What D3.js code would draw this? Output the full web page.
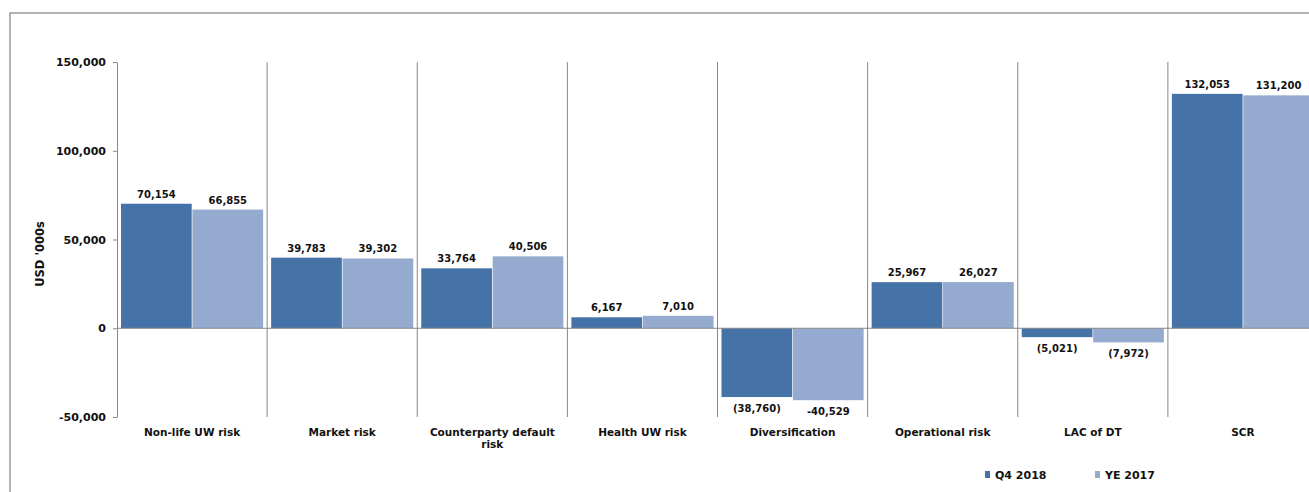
<!DOCTYPE html>
<html>
<head>
<meta charset="utf-8">
<script src="https://cdn.jsdelivr.net/npm/d3@7"></script>
<style>
  body { margin: 0; background: #fff; }
  text { font-family: "DejaVu Sans", Verdana, sans-serif; font-weight: bold; fill: #111; }
</style>
</head>
<body>
<script>
// chart data
var categories = ['Non-life UW risk', 'Market risk', 'Counterparty default risk', 'Health UW risk',
                  'Diversification', 'Operational risk', 'LAC of DT', 'SCR']
var seriesNames = ['Q4 2018', 'YE 2017']
var q4_2018 = [70154, 39783, 33764, 6167, -38760, 25967, -5021, 132053]
var ye_2017 = [66855, 39302, 40506, 7010, -40529, 26027, -7972, 131200]
// labels as printed in the source (negatives mixed style)
var q4Labels = ['70,154', '39,783', '33,764', '6,167', '(38,760)', '25,967', '(5,021)', '132,053']
var yeLabels = ['66,855', '39,302', '40,506', '7,010', '-40,529', '26,027', '(7,972)', '131,200']
var yTicks = [-50000, 0, 50000, 100000, 150000]

var colors = ['#4572a7', '#94aacf']

var W = 1309, H = 492
var svg = d3.select('body').append('svg').attr('width', W).attr('height', H)

// outer frame (runs off the right and bottom edge)
svg.append('rect')
  .attr('x', 10).attr('y', 13).attr('width', W + 20).attr('height', H + 20)
  .attr('fill', 'none').attr('stroke', '#9a9a9a').attr('stroke-width', 1.5)

var plotL = 117, plotR = 1318, plotT = 62, plotB = 417

var x = d3.scaleBand().domain(categories).range([plotL, plotR])
var inner = d3.scaleBand().domain(seriesNames).range([4, x.bandwidth() - 4]).paddingInner(0.01)
var y = d3.scaleLinear().domain([-50000, 150000]).range([plotB, plotT])

// y axis
var fmt = d3.format(',')
var yAxis = d3.axisLeft(y).tickValues(yTicks).tickSize(4).tickPadding(7)
  .tickFormat(function(d){ return fmt(d).replace('\u2212', '-') })
var gy = svg.append('g').attr('transform', 'translate(' + plotL + ',0)').call(yAxis)
gy.select('.domain').attr('stroke', '#888')
gy.selectAll('.tick line').attr('stroke', '#888')
gy.selectAll('.tick text').style('font-size', '11px').style('font-family', '"DejaVu Sans", Verdana, sans-serif')
  .style('font-weight', 'bold').attr('fill', '#111')

// category separators
svg.append('g').selectAll('line')
  .data(categories)
  .enter().append('line')
  .attr('x1', function(d){ return x(d) + x.bandwidth() })
  .attr('x2', function(d){ return x(d) + x.bandwidth() })
  .attr('y1', plotT).attr('y2', plotB)
  .attr('stroke', '#888').attr('stroke-width', 1)

// bars
var series = [q4_2018, ye_2017]
var labels = [q4Labels, yeLabels]
series.forEach(function(vals, s){
  var g = svg.append('g')
  g.selectAll('rect').data(vals).enter().append('rect')
    .attr('x', function(d, i){ return x(categories[i]) + inner(seriesNames[s]) })
    .attr('width', inner.bandwidth())
    .attr('y', function(d){ return y(Math.max(0, d)) })
    .attr('height', function(d){ return Math.abs(y(d) - y(0)) })
    .attr('fill', colors[s])

  g.selectAll('text').data(vals).enter().append('text')
    .attr('x', function(d, i){ return x(categories[i]) + inner(seriesNames[s]) + inner.bandwidth() / 2 })
    .attr('y', function(d){ return d >= 0 ? y(d) - 6 : y(d) + 15 })
    .attr('text-anchor', 'middle')
    .style('font-size', '10px')
    .text(function(d, i){ return labels[s][i] })
})

// zero line
svg.append('line')
  .attr('x1', plotL).attr('x2', W).attr('y1', y(0)).attr('y2', y(0))
  .attr('stroke', '#888')

// category labels
var catLines = {'Counterparty default risk': ['Counterparty default', 'risk']}
svg.append('g').selectAll('text').data(categories).enter().append('text')
  .attr('x', function(d){ return x(d) + x.bandwidth() / 2 })
  .attr('y', 436)
  .attr('text-anchor', 'middle')
  .style('font-size', '10.5px')
  .each(function(d){
    var lines = catLines[d] || [d]
    var t = d3.select(this)
    lines.forEach(function(l, k){
      t.append('tspan').attr('x', x(d) + x.bandwidth() / 2).attr('dy', k === 0 ? 0 : 12).text(l)
    })
  })

// y axis title
svg.append('text')
  .attr('transform', 'translate(44,254) rotate(-90)')
  .attr('text-anchor', 'middle')
  .style('font-size', '11.5px')
  .text("USD '000s")

// legend
var legX = [985, 1095]
var leg = svg.append('g').selectAll('g').data(seriesNames).enter().append('g')
  .attr('transform', function(d, i){ return 'translate(' + legX[i] + ',471)' })
leg.append('rect').attr('width', 5).attr('height', 7).attr('fill', function(d, i){ return colors[i] })
leg.append('text').attr('x', 10).attr('y', 8).style('font-size', '11px').text(function(d){ return d })
</script>
</body>
</html>
